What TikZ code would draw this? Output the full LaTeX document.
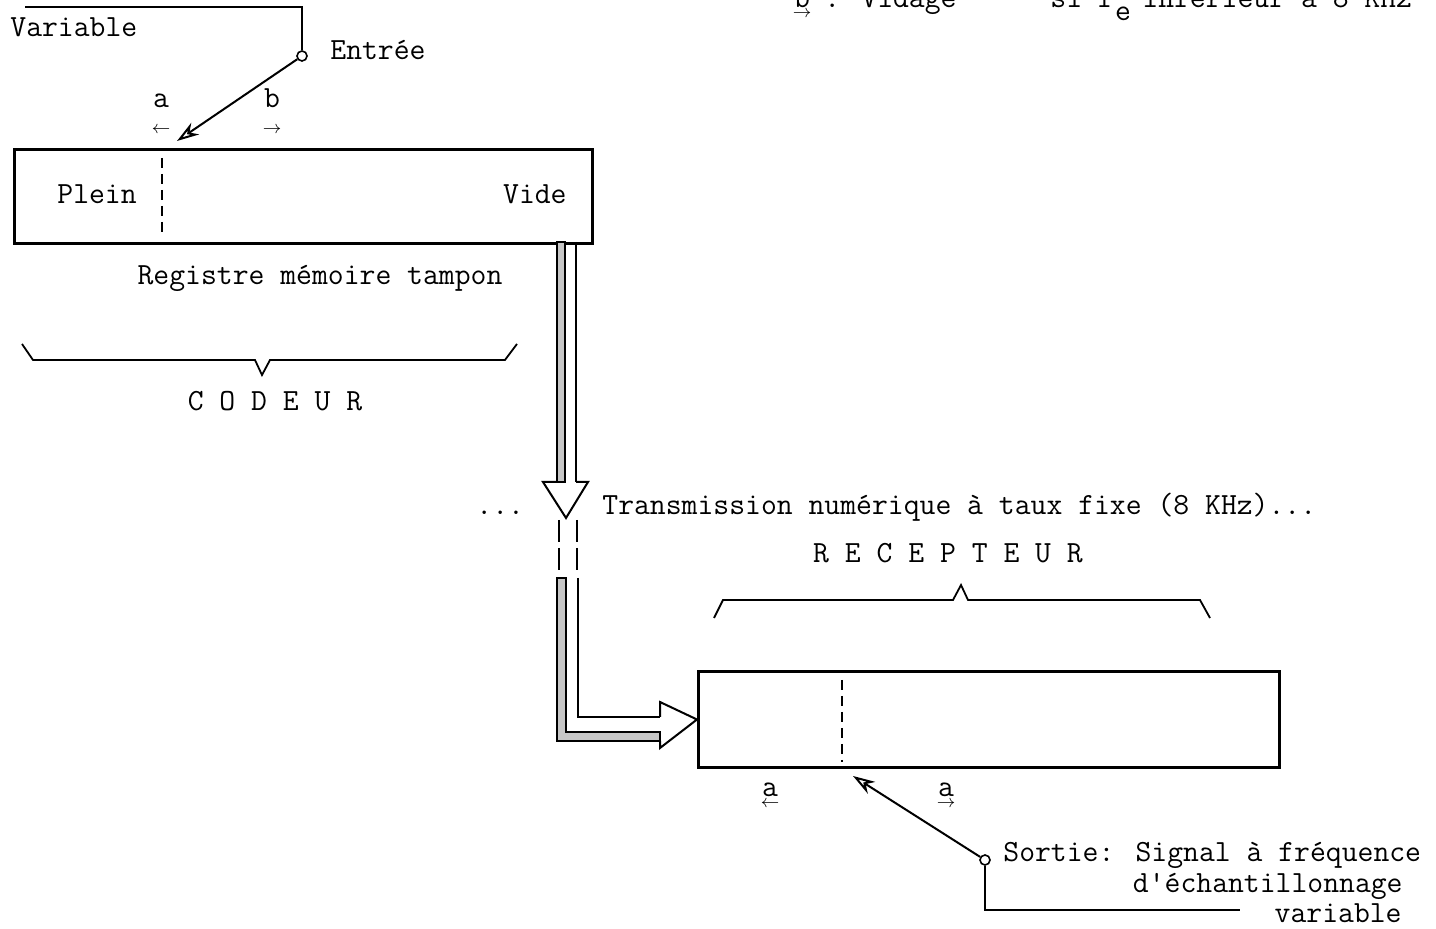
\documentclass[tikz,border=0pt]{standalone}
\usepackage{fontspec}
\usetikzlibrary{arrows.meta, calc, positioning}

\begin{document}
\begin{tikzpicture}[x=0.5pt, y=-0.5pt, >={Stealth[open, length=11pt, width=7pt, inset=3.5pt]},
    every node/.style={font=\fontsize{15.4}{18}\selectfont\ttfamily, inner sep=0pt},
    regbox/.style={draw, line width=1.5pt, inner sep=0pt, anchor=north west},
    plug/.style={draw, circle, minimum size=5pt, line width=0.8pt, fill=white},
    wire/.style={line width=1pt},
    sepline/.style={line width=1pt, dash pattern=on 5pt off 3pt},
    brace/.style={line width=0.9pt},
    stripe/.style={draw, line width=0.9pt, fill=gray!45},
    tinyarrow/.style={font=\fontsize{9}{10}\selectfont}]

    \useasboundingbox (0,0) rectangle (1436,929);
    \clip (0,0) rectangle (1436,929);

    % Draw the cut-off heading line
    \node[anchor=base] (hb) at (802,8) {b};
    \node[tinyarrow, below=1pt of hb] (hbarrow) {$\rightarrow$};
    \node[anchor=base west] (hvid) at (824,8) {: Vidage};
    \node[anchor=base west] (hsi) at (1050,8) {si f};
    \node[anchor=base] (hsub) at (1123,21) {e};
    \node[anchor=base west] (hinf) at (1142,8) {inférieur à 8 KHz};

    % Draw the coder register
    \node[regbox, minimum width=289pt, minimum height=47pt] (reg1) at (13,148) {};
    \draw[sepline] (162,158) -- (162,236);
    \node[anchor=base west] (plein) at (57,204) {Plein};
    \node[anchor=base east] (vide) at (567,204) {Vide};
    \node[anchor=base] (regtxt) at (320,285) {Registre mémoire tampon};

    % Draw the input switch
    \node[plug] (entree) at (302,56) {};
    \coordinate (inlead) at (25,7);
    \coordinate (wr) at ($(reg1.north west)+(164,-7)$);
    \draw[wire] (inlead) -| (entree.north);
    \draw[wire, ->] (entree) -- (wr);
    \node[anchor=base west] (var) at (10,37) {Variable};
    \node[anchor=base west] (entxt) at (330,60) {Entrée};
    \node[anchor=base] (la) at (161,108) {a};
    \node[anchor=base] (lb) at (272,108) {b};
    \node[tinyarrow] (laarrow) at (161,130) {$\leftarrow$};
    \node[tinyarrow] (lbarrow) at (272,130) {$\rightarrow$};

    % Draw the coder brace
    \draw[brace] (22,344) -- (33,360) -- (255,360) -- (262,375) -- (270,360) -- (505,360) -- (517,344);
    \node[anchor=base] (codeur) at (275,411) {C O D E U R};

    % Draw the transmission arrow, upper part
    \draw[stripe] (557,242) rectangle (565,482);
    \draw[wire] (576,242) -- (576,482);
    \draw[wire] (557,482) -- (543,482) -- (566,518) -- (588,482) -- (576,482);
    \draw[wire, dash pattern=on 11pt off 3pt] (559,520) -- (559,570);
    \draw[wire, dash pattern=on 11pt off 3pt] (577,520) -- (577,570);
    \node[anchor=base west] (dots) at (476,515) {...};
    \node[anchor=base west] (trans) at (602,515) {Transmission numérique à taux fixe (8 KHz)...};

    % Draw the receiver register
    \node[regbox, minimum width=290.5pt, minimum height=48pt] (reg2) at (697,670) {};
    \draw[sepline] (842,680) -- (842,762);

    % Draw the transmission arrow, lower part
    \draw[stripe] (557,578) -- (557,741) -- (660,741) -- (660,732) -- (566,732) -- (566,578) -- cycle;
    \draw[wire] (578,578) -- (578,717) -- (660,717);
    \draw[wire] (660,717) -- (660,702) -- (reg2.west) -- (660,748) -- (660,741);

    % Draw the receiver brace
    \draw[brace] (714,618) -- (723,600) -- (953,600) -- (961,585) -- (968,600) -- (1200,600) -- (1210,618);
    \node[anchor=base] (recep) at (948,563) {R E C E P T E U R};

    % Draw the output switch
    \node[plug] (sortie) at (985,860) {};
    \coordinate (rd) at ($(reg2.south west)+(156,7)$);
    \coordinate (outlead) at (1240,910);
    \draw[wire] (sortie.south) |- (outlead);
    \draw[wire, ->] (sortie) -- (rd);
    \node[anchor=base] (ra) at (770,797) {a};
    \node[anchor=base] (rb) at (946,797) {a};
    \node[tinyarrow, below=1.5pt of ra] (raarrow) {$\leftarrow$};
    \node[tinyarrow, below=1.5pt of rb] (rbarrow) {$\rightarrow$};
    \node[anchor=base west] (stxt) at (1003,862) {Sortie: Signal à fréquence};
    \node[anchor=base east] (stxt2) at (1403,893) {d'échantillonnage};
    \node[anchor=base east] (stxt3) at (1402,923) {variable};

\end{tikzpicture}
\end{document}
